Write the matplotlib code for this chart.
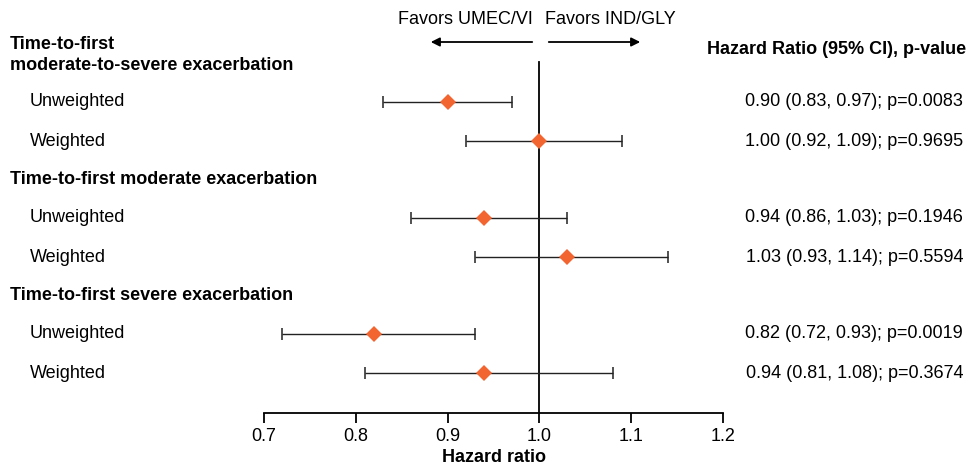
import matplotlib
matplotlib.use("Agg")
import matplotlib.pyplot as plt

plt.rcParams['font.family'] = ['Liberation Sans', 'DejaVu Sans']

groups = ["Time-to-first\nmoderate-to-severe exacerbation",
          "Time-to-first moderate exacerbation",
          "Time-to-first severe exacerbation"]
subrows = ["Unweighted", "Weighted"]
hr = [0.90, 1.00, 0.94, 1.03, 0.82, 0.94]
lo = [0.83, 0.92, 0.86, 0.93, 0.72, 0.81]
hi = [0.97, 1.09, 1.03, 1.14, 0.93, 1.08]
pvals = ["0.0083", "0.9695", "0.1946", "0.5594", "0.0019", "0.3674"]
xticks = [0.7, 0.8, 0.9, 1.0, 1.1, 1.2]

W, H = 971, 472
FS = 13
fig = plt.figure(figsize=(W/100, H/100), dpi=100)
ax = fig.add_axes([264/W, 1-413/H, (723-264)/W, (413-0)/H])
ax.set_xlim(0.7, 1.2)
ax.set_ylim(413, 0)  # pixel-like vertical layout

# row layout
row_y = [102, 141, 218, 257, 334, 373]
head_y = [55, 180, 296]

orange = '#F26430'
for i in range(len(hr)):
    ax.errorbar(hr[i], row_y[i], xerr=[[hr[i]-lo[i]], [hi[i]-hr[i]]],
                fmt='none', ecolor='#222222', elinewidth=1,
                capsize=4.5, capthick=1.1, zorder=3)
    ax.plot(hr[i], row_y[i], 'D', color=orange, markersize=8.5,
            markeredgewidth=0, zorder=4)

ax.plot([1.0, 1.0], [62, 413], color='black', lw=1.3, zorder=2)

for s in ['top', 'right', 'left']:
    ax.spines[s].set_visible(False)
ax.spines['bottom'].set_linewidth(1.3)
ax.spines['bottom'].set_bounds(0.7, 1.2)
ax.set_yticks([])
ax.set_xticks(xticks)
ax.set_xticklabels([f"{x:.1f}" for x in xticks], fontsize=FS)
ax.tick_params(axis='x', length=7, width=1.3, pad=4)
ax.set_xlabel("Hazard ratio", fontsize=FS, fontweight='bold', labelpad=3)

# text helpers in figure pixels
def fx(px): return px / W
def fy(py): return 1 - py / H

for g, y in zip(groups, head_y):
    fig.text(fx(10), fy(y), g, fontsize=FS, fontweight='bold', ha='left', va='center',
             linespacing=1.25)
for i, y in enumerate(row_y):
    fig.text(fx(30), fy(y), subrows[i % 2], fontsize=FS, ha='left', va='center')
    fig.text(fx(963), fy(y), f"{hr[i]:.2f} ({lo[i]:.2f}, {hi[i]:.2f}); p={pvals[i]}",
             fontsize=FS, ha='right', va='center')

fig.text(fx(966), fy(50), "Hazard Ratio (95% CI), p-value", fontsize=FS,
         fontweight='bold', ha='right', va='center')

fig.text(fx(533), fy(19), "Favors UMEC/VI", fontsize=FS, ha='right', va='center')
fig.text(fx(545), fy(19), "Favors IND/GLY", fontsize=FS, ha='left', va='center')
fig.add_artist(matplotlib.patches.FancyArrowPatch((fx(535), fy(42)), (fx(428), fy(42)),
               transform=fig.transFigure, arrowstyle='-|>', mutation_scale=13,
               color='black', lw=1.3))
fig.add_artist(matplotlib.patches.FancyArrowPatch((fx(546), fy(42)), (fx(643), fy(42)),
               transform=fig.transFigure, arrowstyle='-|>', mutation_scale=13,
               color='black', lw=1.3))

fig.savefig("out.png", dpi=100, facecolor='white')
